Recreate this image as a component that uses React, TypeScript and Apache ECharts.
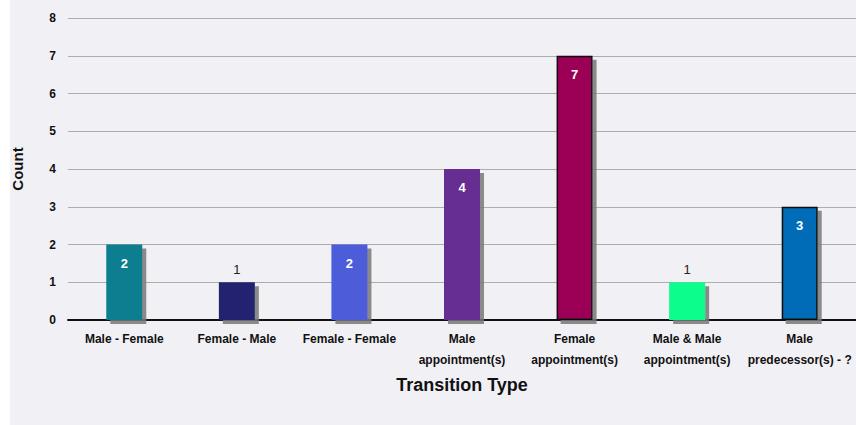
import React, { useEffect, useRef } from "react";
import * as echarts from "echarts";

const categories = [
  "Male - Female",
  "Female - Male",
  "Female - Female",
  "Male\nappointment(s)",
  "Female\nappointment(s)",
  "Male & Male\nappointment(s)",
  "Male\npredecessor(s) - ?",
];
const counts = [2, 1, 2, 4, 7, 1, 3];
const barColors = ["#077e8f", "#222470", "#4d5bd9", "#662d91", "#9c0057", "#0afd8c", "#006cb8"];
const bordered = [false, false, false, false, true, false, true];
const yTicks = [0, 1, 2, 3, 4, 5, 6, 7, 8];

const FONT = "'Liberation Sans Narrow', 'Liberation Sans', sans-serif";

export default function App() {
  const ref = useRef<HTMLDivElement>(null);
  useEffect(() => {
    if (!ref.current) return;
    const chart = echarts.init(ref.current, undefined, { renderer: "svg" });
    chart.setOption({
      animation: false,
      backgroundColor: "#f1f0f5",
      grid: { left: 58, right: 0, top: 18, bottom: 105, containLabel: false, outerBoundsMode: "none" },
      xAxis: {
        type: "category",
        data: categories,
        name: "Transition Type",
        nameLocation: "middle",
        nameGap: 56,
        nameTextStyle: { fontFamily: FONT, fontWeight: "bold", fontSize: 18, color: "#111" },
        axisLine: { lineStyle: { color: "#111", width: 2 } },
        axisTick: { show: false },
        axisLabel: {
          fontFamily: FONT,
          fontWeight: "bold",
          fontSize: 12,
          color: "#111",
          lineHeight: 21,
          margin: 8,
          interval: 0,
        },
      },
      yAxis: {
        type: "value",
        min: yTicks[0],
        max: yTicks[yTicks.length - 1],
        interval: 1,
        name: "Count",
        nameLocation: "middle",
        nameGap: 43,
        nameTextStyle: { fontFamily: FONT, fontWeight: "bold", fontSize: 15, color: "#111" },
        axisLine: { show: false },
        axisTick: { show: false },
        axisLabel: { fontFamily: FONT, fontWeight: "bold", fontSize: 12, color: "#111", margin: 12 },
        splitLine: { lineStyle: { color: "#adadad", width: 1 } },
      },
      series: [
        {
          type: "bar",
          barWidth: 36,
          data: counts.map((v, i) => ({
            value: v,
            itemStyle: {
              color: barColors[i],
              borderColor: bordered[i] ? "#111" : barColors[i],
              borderWidth: bordered[i] ? 1.5 : 0,
              shadowColor: "rgba(120,120,120,0.85)",
              shadowOffsetX: 4,
              shadowOffsetY: 4,
              shadowBlur: 0,
            },
            label: v > 1
              ? { show: true, position: "insideTop", distance: 12, color: "#fff", fontWeight: "bold" }
              : { show: true, position: "top", distance: 6, color: "#222", fontWeight: "normal" },
          })),
          label: { fontFamily: FONT, fontSize: 13 },
        },
      ],
    });
    return () => chart.dispose();
  }, []);
  return (
    <div style={{ position: "absolute", left: 10, top: 0, width: 846, height: 425 }}>
      <div ref={ref} style={{ width: 846, height: 425 }} />
    </div>
  );
}
